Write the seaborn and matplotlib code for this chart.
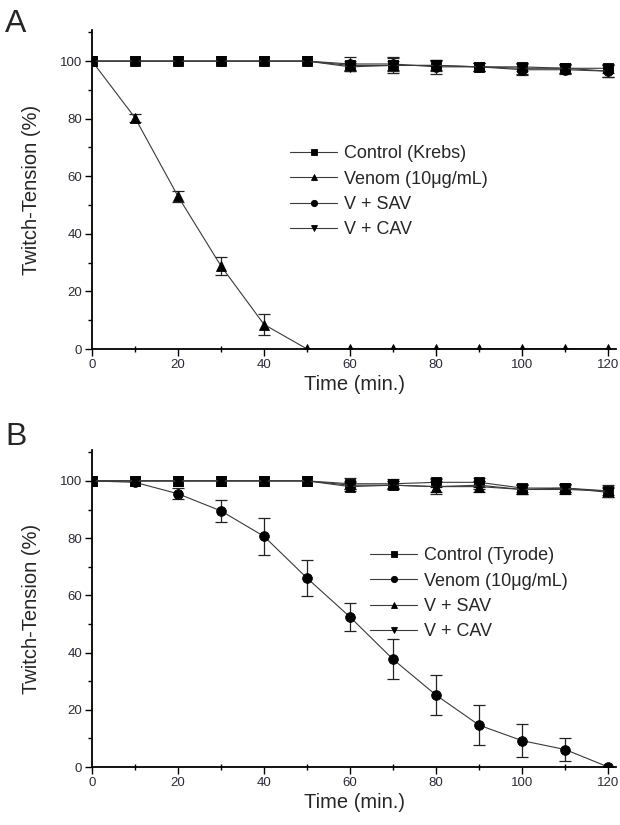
import numpy as np
import pandas as pd
import matplotlib
matplotlib.use("Agg")
import matplotlib.pyplot as plt
import seaborn as sns
from matplotlib.ticker import MultipleLocator

# ---------------- data ----------------
time = [0, 10, 20, 30, 40, 50, 60, 70, 80, 90, 100, 110, 120]

# Panel A
a_labels = ["Control (Krebs)", "Venom (10\u03bcg/mL)", "V + SAV", "V + CAV"]
a_markers = ["s", "^", "o", "v"]
a_control = [100, 100, 100, 100, 100, 100, 98.5, 98.5, 98.5, 98.0, 98.0, 97.5, 97.5]
a_control_err = [0, 0, 0, 0, 0, 0, 1.5, 1.5, 1.5, 1.5, 1.5, 1.5, 1.5]
a_venom = [100, 80.3, 53.0, 28.8, 8.5, 0, 0, 0, 0, 0, 0, 0, 0]
a_venom_err = [0, 1.3, 2.0, 3.2, 3.6, 0, 0, 0, 0, 0, 0, 0, 0]
a_sav = [100, 100, 100, 100, 100, 100, 99.0, 99.0, 98.0, 98.0, 97.0, 97.0, 96.5]
a_sav_err = [0, 0, 0, 0, 0, 0, 2.5, 2.5, 2.5, 1.5, 2.0, 1.5, 2.0]
a_cav = [100, 100, 100, 100, 100, 100, 98.0, 98.5, 98.5, 98.0, 97.5, 97.5, 96.5]
a_cav_err = [0, 0, 0, 0, 0, 0, 1.5, 2.5, 2.0, 1.5, 2.0, 1.5, 2.0]

# Panel B
b_labels = ["Control (Tyrode)", "Venom (10\u03bcg/mL)", "V + SAV", "V + CAV"]
b_markers = ["s", "o", "^", "v"]
b_control = [100, 100, 100, 100, 100, 100, 99.0, 99.0, 99.5, 99.5, 97.5, 97.5, 96.5]
b_control_err = [0, 0, 0, 0, 0, 0, 2.0, 1.5, 1.5, 1.5, 1.5, 1.5, 1.5]
b_venom = [100, 99.5, 95.5, 89.5, 80.6, 66.0, 52.4, 37.6, 25.1, 14.6, 9.2, 6.1, 0]
b_venom_err = [0, 0, 1.9, 3.9, 6.4, 6.4, 4.8, 7.0, 7.0, 6.9, 5.7, 3.9, 0]
b_sav = [100, 100, 100, 100, 100, 100, 98.0, 98.5, 98.0, 98.0, 97.0, 97.0, 96.5]
b_sav_err = [0, 0, 0, 0, 0, 0, 1.5, 1.5, 2.0, 2.0, 1.5, 1.5, 2.0]
b_cav = [100, 100, 100, 100, 100, 100, 98.5, 98.5, 98.0, 98.5, 97.0, 97.5, 96.0]
b_cav_err = [0, 0, 0, 0, 0, 0, 1.5, 1.5, 2.5, 1.5, 1.5, 1.5, 1.5]

x_ticks = [0, 20, 40, 60, 80, 100, 120]
y_ticks = [0, 20, 40, 60, 80, 100]

# ---------------- style ----------------
sns.set_style("ticks")
plt.rcParams["font.family"] = ["Liberation Sans", "DejaVu Sans"]

fig = plt.figure(figsize=(6.2, 8.25), dpi=100)
axA = fig.add_axes([92 / 620, 1 - 349 / 825, 524 / 620, 319 / 825])
axB = fig.add_axes([92 / 620, 1 - 767 / 825, 524 / 620, 317 / 825])


def draw(ax, labels, markers, series, errs, legend_xy):
    for lab, mk, ys, es in zip(labels, markers, series, errs):
        df = pd.DataFrame({"t": time, "v": ys})
        sns.lineplot(data=df, x="t", y="v", ax=ax, estimator=None,
                     color="#3a3a3a", linewidth=0.8, marker=mk, markersize=7,
                     markerfacecolor="black", markeredgecolor="black",
                     markeredgewidth=0.6, label=lab)
        e = np.array(es, dtype=float)
        mask = e > 0
        ax.errorbar(np.array(time)[mask], np.array(ys)[mask], yerr=e[mask],
                    fmt="none", ecolor="#222222", elinewidth=0.9,
                    capsize=4.5, capthick=0.9, zorder=1)
    ax.set_xlim(0, 121.8)
    ax.set_ylim(0, 110.8)
    ax.set_xticks(x_ticks)
    ax.set_yticks(y_ticks)
    ax.xaxis.set_minor_locator(MultipleLocator(10))
    ax.yaxis.set_minor_locator(MultipleLocator(10))
    ax.tick_params(axis="both", which="major", direction="out", length=5,
                   width=1.0, labelsize=9.5, labelcolor="#2a2a3a", color="black",
                   pad=2)
    ax.tick_params(axis="x", which="minor", direction="inout", length=5,
                   width=1.0, color="black")
    ax.tick_params(axis="y", which="minor", direction="out", length=3,
                   width=1.0, color="black")
    for s in ["top", "right"]:
        ax.spines[s].set_visible(False)
    for s in ["left", "bottom"]:
        ax.spines[s].set_linewidth(1.3)
        ax.spines[s].set_color("black")
    ax.set_xlabel("Time (min.)", fontsize=14.5, labelpad=3)
    ax.set_ylabel("Twitch-Tension (%)", fontsize=14.5, labelpad=14)
    h, l = ax.get_legend_handles_labels()
    ax.legend(h, l, loc="upper left", bbox_to_anchor=legend_xy, frameon=False,
              fontsize=13, handlelength=2.6, handletextpad=0.4,
              labelspacing=0.46, borderpad=0, borderaxespad=0, markerscale=0.65)


draw(axA, a_labels, a_markers,
     [a_control, a_venom, a_sav, a_cav],
     [a_control_err, a_venom_err, a_sav_err, a_cav_err], (0.378, 0.638))
draw(axB, b_labels, b_markers,
     [b_control, b_venom, b_sav, b_cav],
     [b_control_err, b_venom_err, b_sav_err, b_cav_err], (0.531, 0.693))

fig.text(0.008, 1 - 24 / 825, "A", fontsize=23, va="center", ha="left")
fig.text(0.008, 1 - 437 / 825, "B", fontsize=23, va="center", ha="left")

fig.savefig("out.png", dpi=100)
